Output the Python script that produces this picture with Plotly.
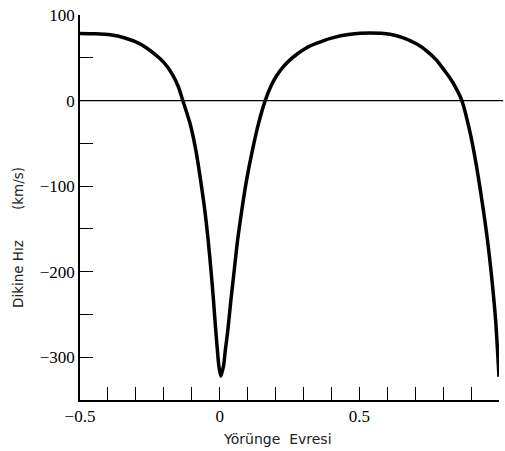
import plotly.graph_objects as go

# Radial velocity curve sampled along orbital phase
phase = [-0.5, -0.45, -0.392, -0.339, -0.285, -0.249, -0.213, -0.188, -0.166, -0.149, -0.132,
         -0.106, -0.085, -0.068, -0.053, -0.041, -0.031, -0.022, -0.014, -0.008, -0.003,
         0.004,
         0.014, 0.020, 0.029, 0.040, 0.052, 0.064, 0.079, 0.096, 0.117, 0.139, 0.163,
         0.185, 0.204, 0.225, 0.25, 0.28, 0.31, 0.348, 0.40, 0.467, 0.538, 0.61, 0.66,
         0.706, 0.745, 0.777, 0.805, 0.825, 0.847, 0.867,
         0.895, 0.916, 0.939, 0.959, 0.975, 0.988, 1.0]
velocity = [78.4, 78.0, 76.8, 73.1, 66.3, 58.5, 48.8, 39.8, 28.5, 17.0, 0,
            -26.9, -58.5, -93.6, -128.7, -163.7, -198.8, -233.9, -269, -292.4, -309.9,
            -322.2,
            -309.9, -292.4, -269, -233.9, -198.8, -163.7, -128.7, -93.6, -58.5, -26.9, 0,
            18.0, 29.0, 38.5, 47.0, 55.0, 61.5, 67.0, 73.0, 77.5, 79.0, 77.5, 73.0,
            66.0, 57.0, 47.0, 35.0, 26.0, 14.0, 0,
            -35.1, -70.2, -117, -163.7, -210.5, -257.3, -322.8]

y_tickvals = [-300, -200, -100, 0, 100]
y_ticktext = ["\u2212300", "\u2212200", "\u2212100", "0", "100"]
x_tickvals = [-0.5, 0, 0.5, 1.0]
x_ticktext = ["\u22120.5", "0", "0.5", "1.0"]

serif = "Liberation Serif"
sans = "DejaVu Sans"

fig = go.Figure()
fig.add_trace(go.Scatter(
    x=phase, y=velocity, mode="lines",
    line=dict(color="black", width=3.5, shape="spline", smoothing=0.7),
    hoverinfo="skip", showlegend=False, cliponaxis=False,
))

# Zero-velocity reference line
fig.add_shape(type="line", xref="paper", yref="y", x0=0, x1=1.01, y0=0, y1=0,
              line=dict(color="black", width=1.3), layer="below")

fig.update_layout(
    width=505, height=451,
    margin=dict(l=80, r=6, t=15, b=51),
    paper_bgcolor="white", plot_bgcolor="white",
    xaxis=dict(
        range=[-0.5, 1.0], showgrid=False, zeroline=False,
        showline=True, linecolor="black", linewidth=1.6,
        ticks="inside", ticklen=13, tickwidth=1.4, tickcolor="black",
        tickvals=x_tickvals, ticktext=x_ticktext,
        tickfont=dict(family=serif, size=17, color="black"),
        minor=dict(ticks="inside", ticklen=13, tickwidth=1.4, tickcolor="black",
                   dtick=0.1, tick0=0, showgrid=False),
    ),
    yaxis=dict(
        range=[-350, 100], showgrid=False, zeroline=False,
        showline=True, linecolor="black", linewidth=1.6,
        ticks="inside", ticklen=13, tickwidth=1.4, tickcolor="black",
        tickvals=y_tickvals, ticktext=y_ticktext,
        tickfont=dict(family=serif, size=17, color="black"),
        minor=dict(ticks="inside", ticklen=13, tickwidth=1.4, tickcolor="black",
                   dtick=50, tick0=0, showgrid=False),
    ),
    annotations=[
        dict(text="Yörünge&nbsp;&nbsp;Evresi", xref="paper", yref="paper",
             x=(277 - 80) / 419, y=-(439 - 400) / 385, xanchor="center", yanchor="middle",
             showarrow=False, font=dict(family=sans, size=14, color="#222")),
        dict(text="Dikine Hız" + "&nbsp;" * 7 + "(km/s)", xref="paper", yref="paper",
             x=-(80 - 18) / 419, y=(400 - 238) / 385, xanchor="center", yanchor="middle",
             textangle=-90, showarrow=False, font=dict(family=sans, size=13.5, color="#222")),
    ],
)

fig.write_html("out.html")
